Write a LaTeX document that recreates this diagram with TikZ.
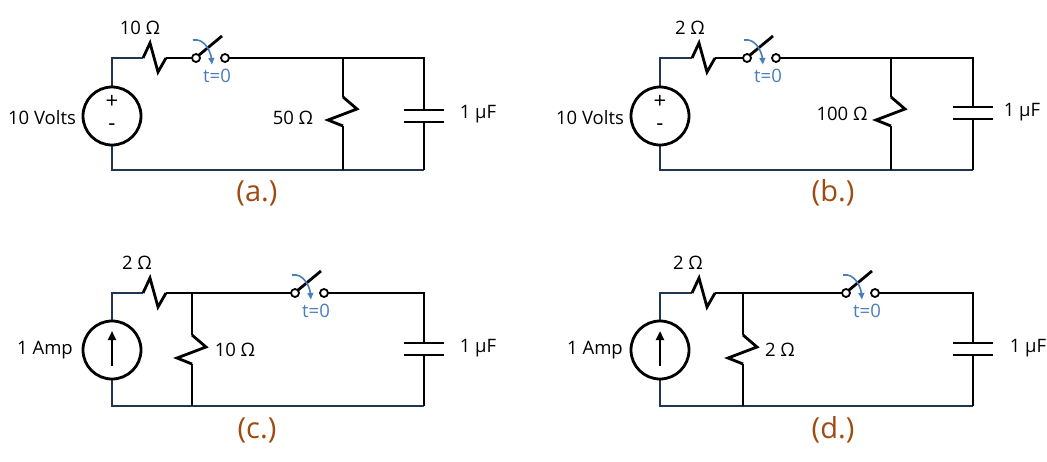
\documentclass[tikz,border=0pt]{standalone}
\usepackage{fontspec}
\setmainfont{Open Sans}
\usetikzlibrary{arrows.meta}
\definecolor{navy}{HTML}{1F3550}
\definecolor{sw}{HTML}{4A7EBB}
\definecolor{lab}{HTML}{9E4A10}
\tikzset{
 w/.style={line width=2.8pt,black},
 nv/.style={line width=2.8pt,navy},
 t/.style={font=\fontsize{18.5}{22}\selectfont},
 pm/.style={font=\fontsize{22}{24}\selectfont},
 tl/.style={font=\fontsize{29}{33}\selectfont,text=lab},
 src/.style={circle,draw,line width=2.8pt,minimum size=58pt,inner sep=0},
 pics/hres/.style={code={\draw[w,line join=miter] (0,0)--(7,-15)--(15,14)--(23,0);}},
 pics/vres/.style={code={\draw[w] (0,0)--(14,12)--(-15,23)--(0,29);}},
 pics/swt/.style={code={
   \draw[w] (2.5,-2.5)--(26,-22);
   \draw[line width=1.8pt,fill=white] (0,0) circle (4) (29,0) circle (4);
   \draw[sw,line width=1.6pt,-{Latex[length=7pt,width=7pt]}] (-3,-18) to[out=10,in=95] (16,7);
   \node[t,text=sw] at (21,18) {t=0};
 }},
 pics/cap/.style={code={\draw[w] (-20,-6)--(20,-6) (-20,6)--(20,6);}},
}
\begin{document}
\begin{tikzpicture}[x=1pt,y=-1pt]
\useasboundingbox (0,0) rectangle (1047,461);
% (a)
\draw[nv] (112,87)--(112,58)--(143,58);
\draw[nv] (112,145)--(112,170)--(424,170);
\node[src] (sa) at (112,116) {};
\node[pm] at (112,102) {+}; \node[pm] at (112,127) {-};
\pic at (143,58) {hres};
\draw[w] (166,58)--(192,58) (229,58)--(424,58)--(424,110) (424,122)--(424,170);
\pic at (196,58) {swt};
\draw[w] (343,58)--(343,97) (343,126)--(343,170);
\pic at (343,97) {vres};
\pic at (424,116) {cap};
\node[t] at (140,28) {10 Ω}; \node[t] at (42,118) {10 Volts};
\node[t] at (293,118) {50 Ω}; \node[t] at (478,114) {1 μF};
\node[tl] at (257,193) {(a.)};
% (b)
\draw[nv] (660,87)--(660,58)--(692,58);
\draw[nv] (660,145)--(660,170)--(973,170);
\node[src] (sb) at (660,116) {};
\node[pm] at (660,102) {+}; \node[pm] at (660,127) {-};
\pic at (692,58) {hres};
\draw[w] (715,58)--(743,58) (780,58)--(973,58)--(973,107) (973,119)--(973,170);
\pic at (747,58) {swt};
\draw[w] (891,58)--(891,97) (891,126)--(891,170);
\pic at (891,97) {vres};
\pic at (973,113) {cap};
\node[t] at (690,28) {2 Ω}; \node[t] at (590,118) {10 Volts};
\node[t] at (842,114) {100 Ω}; \node[t] at (1022,112) {1 μF};
\node[tl] at (833,193) {(b.)};
% (c)
\draw[nv] (112,321)--(112,293)--(143,293);
\draw[nv] (112,379)--(112,406)--(424,406);
\node[src] (sc) at (112,350) {};
\draw[line width=2.2pt,-{Triangle[length=9pt,width=8pt]}] (112,366)--(112,331);
\pic at (143,293) {hres};
\draw[w] (166,293)--(291,293) (328,293)--(424,293)--(424,343) (424,355)--(424,406);
\pic at (295,293) {swt};
\draw[w] (192,293)--(192,335) (192,364)--(192,406);
\pic at (192,335) {vres};
\pic at (424,349) {cap};
\node[t] at (137,263) {2 Ω}; \node[t] at (45,350) {1 Amp};
\node[t] at (235,350) {10 Ω}; \node[t] at (478,348) {1 μF};
\node[tl] at (257,430) {(c.)};
% (d)
\draw[nv] (660,321)--(660,293)--(692,293);
\draw[nv] (660,379)--(660,406)--(973,406);
\node[src] (sd) at (660,350) {};
\draw[line width=2.2pt,-{Triangle[length=9pt,width=8pt]}] (660,366)--(660,331);
\pic at (692,293) {hres};
\draw[w] (715,293)--(842,293) (879,293)--(973,293)--(973,343) (973,355)--(973,406);
\pic at (846,293) {swt};
\draw[w] (743,293)--(743,335) (743,364)--(743,406);
\pic at (743,335) {vres};
\pic at (973,349) {cap};
\node[t] at (688,263) {2 Ω}; \node[t] at (595,350) {1 Amp};
\node[t] at (780,350) {2 Ω}; \node[t] at (1028,348) {1 μF};
\node[tl] at (833,430) {(d.)};
\end{tikzpicture}
\end{document}
